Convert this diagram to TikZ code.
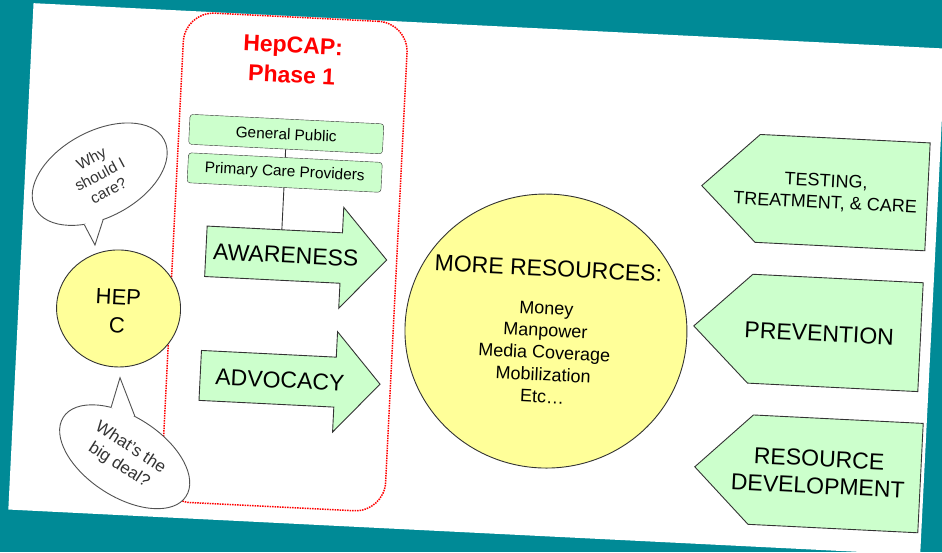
\documentclass[tikz,border=0pt]{standalone}
\usepackage{fontspec}
\setmainfont{Liberation Sans}
\usepackage{tikz}
\usetikzlibrary{shapes.geometric, calc}
\definecolor{fond}{HTML}{008A96}
\definecolor{vert}{HTML}{CCFFCC}
\definecolor{jaune}{HTML}{FFFF99}
\definecolor{trait}{HTML}{333333}
\tikzstyle{box} = [rectangle,
rounded corners=3,
minimum width=194,
minimum height=30,
inner sep=0,
text centered,
draw=trait, fill=vert,
font=\fontsize{15.4}{18}\selectfont]
\tikzstyle{fleche} = [draw=trait, fill=vert, line width=0.9]
\tikzstyle{rond} = [ellipse, draw=trait, fill=jaune, line width=0.9, inner sep=0]
\tikzstyle{bulle} = [ellipse, draw=trait!85, fill=white, line width=0.9, inner sep=0,
align=center, text=trait]
\tikzstyle{gros} = [align=center, inner sep=0, font=\fontsize{23}{27.3}\selectfont]

\begin{document}
\begin{tikzpicture}[x=1pt, y=-1pt]

% Fond et cadre
\fill[fond] (0,0) rectangle (942,552);
\useasboundingbox (0,0) rectangle (942,552);

\begin{scope}[rotate around={-2.85:(476,276)}, transform shape]
\fill[white] (20.5,25.5) rectangle (933.5,532.5); % La diapo

% Cadre de la phase 1
\node[draw=red, densely dotted, line width=1.5, rounded corners=30,
  minimum width=224, minimum height=490, inner sep=0] (phase) at (284,271.5) {};
\node[align=center, text=red, font=\bfseries\fontsize{23}{30}\selectfont] (titre) at (282,69.4) {HepCAP:\\Phase 1};

% Publics
\node[box] (gp) at (279.4,143.7) {General Public};
\node[box] (pcp) at (279.8,182.2) {Primary Care Providers};
\draw[trait, line width=0.9] (gp) -- (pcp);

% Fleches vers la droite
\draw[fleche] (205,239.5) -- (340.5,239.5) -- (340.5,214) -- (386,264.5) -- (340.5,315) -- (340.5,290) -- (205,290) -- cycle;
\node[gros] (aware) at (285,264.5) {AWARENESS};
\coordinate (awhaut) at (279.8,239.5);
\draw[trait, line width=0.9] (pcp) -- (awhaut);

\draw[fleche] (205.5,364) -- (340.5,364) -- (340.5,338.5) -- (385.5,388.8) -- (340.5,439) -- (340.5,414) -- (205.5,414) -- cycle;
\node[gros] (advoc) at (285.4,389.6) {ADVOCACY};

% HEP C et bulles
\node[rond, minimum width=124, minimum height=117] (hep) at (120.6,326.2) {};
\node[gros, font=\fontsize{22}{28}\selectfont] (heptxt) at (119.9,328.8) {HEP\\C};

\node[bulle, rotate=31, minimum width=146, minimum height=86,
  font=\fontsize{15.5}{18.3}\selectfont] (pourquoi) at (95.1,193) {Why\\should I\\care?};
\coordinate (pourquoipointe) at (93.9,264);
\fill[white] (pourquoi.225) -- (pourquoipointe) -- (pourquoi.246) -- ($(pourquoi.center)!0.8!(pourquoi.235)$) -- cycle;
\draw[trait!85, line width=0.9] (pourquoi.225) -- (pourquoipointe) -- (pourquoi.246);

\node[bulle, rotate=-30, minimum width=146, minimum height=80,
  font=\fontsize{17}{21}\selectfont] (quoi) at (134.1,474) {What’s the\\big deal?};
\coordinate (quoipointe) at (125.5,395.3);
\fill[white] (quoi.138.7) -- (quoipointe) -- (quoi.109.2) -- ($(quoi.center)!0.8!(quoi.124)$) -- cycle;
\draw[trait!85, line width=0.9] (quoi.138.7) -- (quoipointe) -- (quoi.109.2);

% Ressources
\node[rond, minimum width=282, minimum height=274] (res) at (548.6,327.5) {};
\node[gros] (restitre) at (548,264.7) {MORE RESOURCES:};
\node[align=center, inner sep=0, font=\fontsize{18}{22.15}\selectfont] (liste) at (548,349) {Money\\Manpower\\Media Coverage\\Mobilization\\Etc…};

% Fleches vers la gauche
\draw[fleche] (923,120.5) -- (753,120.5) -- (697,174.5) -- (753,228.5) -- (923,228.5) -- cycle;
\node[gros, font=\fontsize{18}{21.6}\selectfont] (soins) at (821,175.2) {TESTING,\\TREATMENT, \& CARE};

\draw[fleche] (923,260.5) -- (752.5,260.5) -- (696,315) -- (752.5,369.5) -- (923,369.5) -- cycle;
\node[gros] (prev) at (821.7,316.2) {PREVENTION};

\draw[fleche] (930,401) -- (760,401) -- (704,455.7) -- (760,510.5) -- (930,510.5) -- cycle;
\node[gros] (dev) at (827.8,455) {RESOURCE\\DEVELOPMENT};
\end{scope}

\end{tikzpicture}
\end{document}
